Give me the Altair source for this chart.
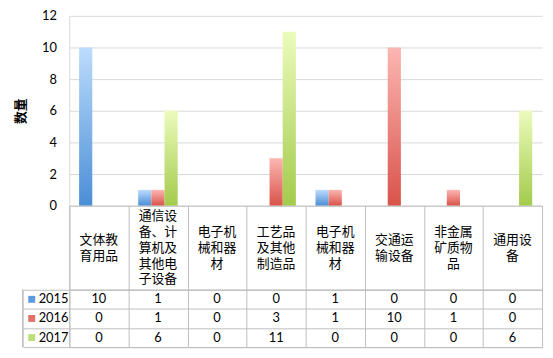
import altair as alt
import pandas as pd

categories = ["文体教育用品", "通信设备、计算机及其他电子设备", "电子机械和器材",
              "工艺品及其他制造品", "电子机械和器材", "交通运输设备", "非金属矿质物品", "通用设备"]
years = ["2015", "2016", "2017"]
v2015 = [10, 1, 0, 0, 1, 0, 0, 0]
v2016 = [0, 1, 0, 3, 1, 10, 1, 0]
v2017 = [0, 6, 0, 11, 0, 0, 0, 6]
y_ticks = [0, 2, 4, 6, 8, 10, 12]

grad_top = {"2015": "#bcdcfd", "2016": "#fcb6b2", "2017": "#ebfbbb"}
grad_bot = {"2015": "#4a8ed6", "2016": "#d9534a", "2017": "#a3cb4c"}
sq_colors = ["#5b9be0", "#e4706a", "#bcde78"]

CJK = "Noto Sans CJK SC"
NUM = "Lato"
LINE = "#bfbfbf"
GRID = "#d9d9d9"

rows = []
for i, c in enumerate(categories):
    for y, vals in zip(years, [v2015, v2016, v2017]):
        rows.append({"idx": i, "cat": c, "year": y, "value": vals[i]})
df = pd.DataFrame(rows)

# header: wrap each category name every 3 characters, one datum per line
hrows = []
for i, c in enumerate(categories):
    parts = [c[j:j + 3] for j in range(0, len(c), 3)]
    n = len(parts)
    for k, p in enumerate(parts):
        hrows.append({"idx": i, "line": p, "pos": k - (n - 1) / 2})
hdr = pd.DataFrame(hrows)
yr = pd.DataFrame({"year": years})

xscale = alt.Scale(domain=list(range(len(categories))), paddingInner=0, paddingOuter=0)
W = 478
H_BAR = 192
H_HDR = 85
H_TAB = 58
LINE_H = 16

# ---- bar chart ----
yenc = alt.Y("value:Q", scale=alt.Scale(domain=[0, 12]),
             axis=alt.Axis(values=y_ticks, title="数量", titleFont=CJK, titleFontSize=13,
                           titleFontWeight="bold", titleColor="black", titlePadding=14,
                           labelFont=NUM, labelFontSize=13, labelColor="black", labelPadding=13,
                           ticks=False, domain=True, domainColor=GRID, gridColor=GRID))
layers = []
for y in years:
    layers.append(
        alt.Chart(df).transform_filter(alt.datum.year == y).mark_bar(
            color=alt.Gradient(gradient="linear",
                               stops=[alt.GradientStop(color=grad_top[y], offset=0),
                                      alt.GradientStop(color=grad_bot[y], offset=1)],
                               x1=0, x2=0, y1=0, y2=1)
        ).encode(
            x=alt.X("idx:O", scale=xscale, axis=None),
            xOffset=alt.XOffset("year:N", scale=alt.Scale(domain=years, paddingInner=0, paddingOuter=0.745)),
            y=yenc,
        )
    )
bars = alt.layer(*layers).properties(width=W, height=H_BAR, view=alt.ViewBackground(strokeOpacity=0))

# ---- table header ----
half = H_HDR / LINE_H / 2
header = alt.Chart(hdr).mark_text(fontSize=13, font=CJK, color="black", baseline="middle").encode(
    x=alt.X("idx:O", scale=xscale,
            axis=alt.Axis(labels=False, ticks=False, domain=False, grid=True, tickBand="extent",
                          gridColor=LINE, title=None)),
    y=alt.Y("pos:Q", scale=alt.Scale(domain=[-half, half], reverse=True, nice=False, zero=False), axis=None),
    text="line:N",
).properties(width=W, height=H_HDR)

# ---- table values ----
tx = alt.X("idx:O", scale=xscale,
           axis=alt.Axis(labels=False, ticks=False, domain=False, grid=True, tickBand="extent",
                         gridColor=LINE, title=None))
yband = alt.Scale(domain=years, paddingInner=0, paddingOuter=0)
ty = alt.Y("year:O", scale=yband,
           axis=alt.Axis(labels=False, title=None, ticks=True, tickSize=47, tickBand="extent",
                         tickColor=LINE, domain=False, grid=True, gridColor=LINE))
cells = alt.Chart(df).mark_text(fontSize=13, font=NUM, color="black").encode(x=tx, y=ty, text="value:Q")
ylab = alt.Chart(yr).mark_text(align="left", fontSize=13, font=NUM, color="black").encode(
    x=alt.value(-31), y=alt.Y("year:O", scale=yband), text="year:N")
squares = alt.Chart(yr).mark_square(size=49, opacity=1, filled=True).encode(
    x=alt.value(-38), y=alt.Y("year:O", scale=yband),
    color=alt.Color("year:N", scale=alt.Scale(domain=years, range=sq_colors), legend=None))
border = alt.Chart(yr).mark_rule(color=LINE).encode(x=alt.value(-47), y=alt.value(0), y2=alt.value(H_TAB))
table = alt.layer(cells, ylab, squares, border).properties(width=W, height=H_TAB)

chart = alt.vconcat(bars, header, table, spacing=0, bounds="flush").properties(
    padding={"left": 6, "top": 0, "right": 2, "bottom": 0}
).configure_view(stroke=LINE)

chart.save("out.html", embed_options={"renderer": "svg", "actions": False})
